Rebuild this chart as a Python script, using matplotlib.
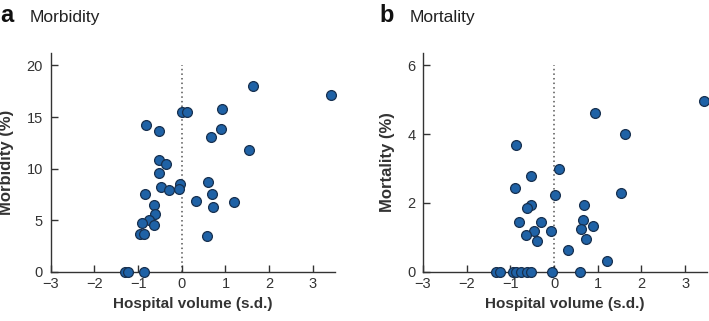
import numpy as np
import matplotlib
matplotlib.use("Agg")
import matplotlib.pyplot as plt

plt.rcParams.update({"font.family": ["Liberation Sans", "DejaVu Sans"]})

# Panel a: morbidity vs hospital volume
morb_x = [3.42, 1.63, 0.93, 0.00, 0.13, -0.82, -0.51, 0.89, 0.66, 1.53,
          -0.52, -0.37, -0.52, -0.05, -0.06, 0.61, -0.47, -0.29, -0.85, 0.69,
          0.32, 1.19, 0.72, -0.63, -0.61, -0.76, -0.92, -0.63, -0.95, -0.87,
          0.58, -1.31, -1.24, -0.87]
morb_y = [17.1, 18.0, 15.8, 15.5, 15.5, 14.2, 13.6, 13.8, 13.1, 11.8,
          10.8, 10.4, 9.6, 8.5, 8.0, 8.7, 8.2, 7.9, 7.5, 7.5,
          6.9, 6.8, 6.3, 6.45, 5.55, 5.0, 4.75, 4.55, 3.7, 3.7,
          3.5, 0.0, 0.0, 0.0]

# Panel b: mortality vs hospital volume
mort_x = [3.42, 0.94, 1.63, -0.86, 0.12, -0.52, -0.90, 0.01, 1.54, 0.69,
          -0.52, -0.62, -0.81, -0.29, 0.67, 0.90, 0.62, -0.46, -0.06, -0.64,
          0.73, -0.38, 0.33, 1.20,
          -1.32, -1.24, -0.94, -0.86, -0.75, -0.62, -0.52, -0.05, 0.59]
mort_y = [4.98, 4.63, 4.01, 3.68, 2.98, 2.77, 2.44, 2.22, 2.29, 1.94,
          1.93, 1.84, 1.44, 1.46, 1.50, 1.34, 1.25, 1.18, 1.17, 1.08,
          0.95, 0.90, 0.64, 0.31,
          0, 0, 0, 0, 0, 0, 0, 0, 0]

DOT = "#1f62a6"; EDGE = "#17304f"; INK = "#333333"

fig = plt.figure(figsize=(7.09, 3.21), dpi=100)
ax_a = fig.add_axes([0.0715, 0.1536, 0.4006, 0.681])
ax_b = fig.add_axes([0.5966, 0.1536, 0.4006, 0.681])

panels = [
    (ax_a, morb_x, morb_y, 21.2, 20, [0, 5, 10, 15, 20], "Morbidity (%)", "a", "Morbidity", 0.0, 0.042),
    (ax_b, mort_x, mort_y, 6.36, 6, [0, 2, 4, 6], "Mortality (%)", "b", "Mortality", 0.535, 0.578),
]
for ax, xs, ys, ytop, vtop, yt, ylab, letter, title, lx, tx in panels:
    ax.plot([0, 0], [0, vtop], ls=(0, (1, 2)), color="#555555", lw=1.1, zorder=1)
    ax.scatter(xs, ys, s=50, color=DOT, edgecolor=EDGE, linewidth=0.9, zorder=3, clip_on=False)
    ax.set_xlim(-3, 3.5)
    ax.set_ylim(0, ytop)
    ax.set_xticks([-3, -2, -1, 0, 1, 2, 3])
    ax.set_xticklabels(["\u22123", "\u22122", "\u22121", "0", "1", "2", "3"])
    ax.set_yticks(yt)
    for s in ["top", "right"]:
        ax.spines[s].set_visible(False)
    for s in ["left", "bottom"]:
        ax.spines[s].set_color(INK)
        ax.spines[s].set_linewidth(1.0)
    ax.tick_params(direction="in", length=5, width=1, color=INK, labelcolor=INK, labelsize=10.5)
    ax.tick_params(axis="y", pad=5.5)
    ax.tick_params(axis="x", pad=4)
    ax.set_xlabel("Hospital volume (s.d.)", fontsize=11, fontweight="bold", color=INK, labelpad=4)
    ax.set_ylabel(ylab, fontsize=12, fontweight="bold", color=INK, labelpad=9)
    fig.text(lx, 0.931, letter, fontsize=17, fontweight="bold", color="#111111", va="baseline")
    fig.text(tx, 0.931, title, fontsize=12.5, color="#222222", va="baseline")

fig.savefig("out.png", dpi=100)
